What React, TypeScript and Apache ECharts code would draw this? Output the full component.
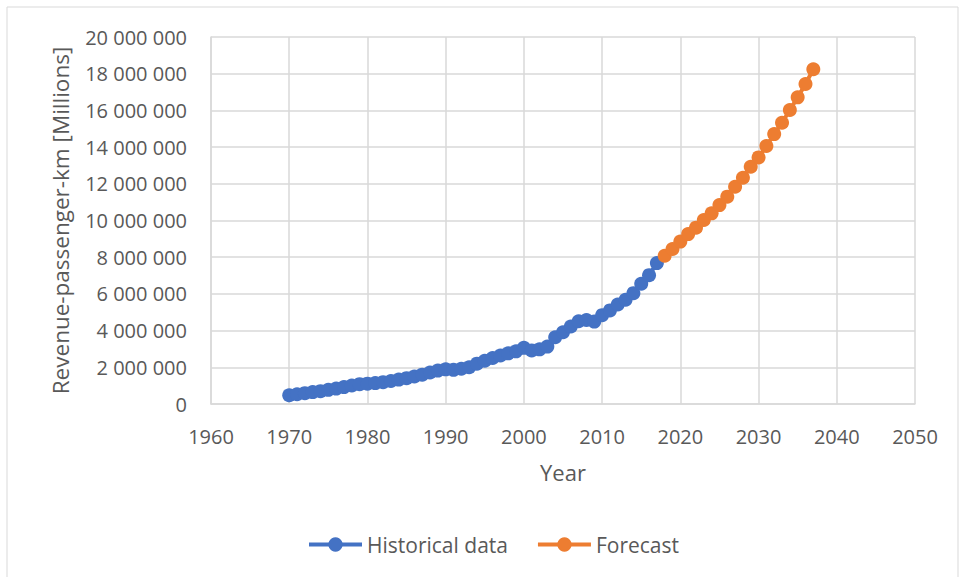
import React, { useEffect, useRef } from "react";
import * as echarts from "echarts";

const historicalYears = [
  1970, 1971, 1972, 1973, 1974, 1975, 1976, 1977, 1978, 1979,
  1980, 1981, 1982, 1983, 1984, 1985, 1986, 1987, 1988, 1989,
  1990, 1991, 1992, 1993, 1994, 1995, 1996, 1997, 1998, 1999,
  2000, 2001, 2002, 2003, 2004, 2005, 2006, 2007, 2008, 2009,
  2010, 2011, 2012, 2013, 2014, 2015, 2016, 2017,
];
const historicalValues = [
  480000, 530000, 590000, 650000, 700000, 770000, 840000, 920000, 1010000, 1080000,
  1110000, 1140000, 1190000, 1250000, 1330000, 1410000, 1500000, 1600000, 1720000, 1820000,
  1890000, 1860000, 1920000, 2000000, 2200000, 2360000, 2510000, 2640000, 2760000, 2870000,
  3060000, 2920000, 2980000, 3130000, 3640000, 3910000, 4220000, 4510000, 4580000, 4490000,
  4840000, 5100000, 5420000, 5680000, 6040000, 6550000, 7020000, 7680000,
];
const forecastYears = [
  2018, 2019, 2020, 2021, 2022, 2023, 2024, 2025, 2026, 2027,
  2028, 2029, 2030, 2031, 2032, 2033, 2034, 2035, 2036, 2037,
];
const forecastValues = [
  8080000, 8450000, 8850000, 9260000, 9610000, 10030000, 10390000, 10840000, 11300000, 11840000,
  12330000, 12930000, 13440000, 14060000, 14710000, 15330000, 16020000, 16710000, 17440000, 18240000,
];

const seriesNames = ["Historical data", "Forecast"];
const xAxisTitle = "Year";
const yAxisTitle = "Revenue-passenger-km [Millions]";

const FONT = "'Open Sans', sans-serif";
const TEXT_COLOR = "#595959";
const GRID_COLOR = "#d9d9d9";

function fmt(v: number): string {
  return String(Math.round(v)).replace(/\B(?=(\d{3})+(?!\d))/g, " ");
}

export default function App() {
  const ref = useRef<HTMLDivElement>(null);
  useEffect(() => {
    if (!ref.current) return;
    const chart = echarts.init(ref.current, null, { renderer: "svg" });
    chart.setOption({
      animation: false,
      backgroundColor: "#ffffff",
      textStyle: { fontFamily: FONT },
      graphic: [
        {
          type: "rect",
          shape: { x: 7, y: 7, width: 951, height: 600 },
          style: { fill: "none", stroke: GRID_COLOR, lineWidth: 1 },
          silent: true,
        },
      ],
      grid: { left: 211, right: 50, top: 37, bottom: 173, containLabel: false },
      xAxis: {
        type: "value",
        min: 1960,
        max: 2050,
        interval: 10,
        name: xAxisTitle,
        nameLocation: "middle",
        nameGap: 57,
        nameTextStyle: { fontSize: 22, color: TEXT_COLOR, fontFamily: FONT },
        axisLine: { show: true, lineStyle: { color: GRID_COLOR, width: 1.5 } },
        axisTick: { show: false },
        axisLabel: {
          fontSize: 20,
          color: TEXT_COLOR,
          margin: 22,
          fontFamily: FONT,
          formatter: (v: number) => String(v),
        },
        splitLine: { show: true, lineStyle: { color: GRID_COLOR, width: 1.5 } },
      },
      yAxis: {
        type: "value",
        min: 0,
        max: 20000000,
        interval: 2000000,
        name: yAxisTitle,
        nameLocation: "middle",
        nameGap: 139,
        nameTextStyle: { fontSize: 22.5, color: TEXT_COLOR, fontFamily: FONT },
        axisLine: { show: true, lineStyle: { color: GRID_COLOR, width: 1.5 } },
        axisTick: { show: false },
        axisLabel: {
          fontSize: 20,
          color: TEXT_COLOR,
          margin: 24,
          fontFamily: FONT,
          formatter: (v: number) => fmt(v),
        },
        splitLine: { show: true, lineStyle: { color: GRID_COLOR, width: 1.5 } },
      },
      legend: {
        bottom: 17,
        left: 302,
        itemWidth: 53,
        itemHeight: 18,
        itemGap: 28,
        lineStyle: { width: 4 },
        textStyle: { fontSize: 21, color: TEXT_COLOR, fontFamily: FONT },
        data: seriesNames,
      },
      series: [
        {
          name: seriesNames[0],
          type: "line",
          data: historicalYears.map((y, i) => [y, historicalValues[i]]),
          symbol: "circle",
          symbolSize: 14,
          color: "#4472C4",
          lineStyle: { width: 4, color: "#4472C4" },
          itemStyle: { color: "#4472C4" },
        },
        {
          name: seriesNames[1],
          type: "line",
          data: forecastYears.map((y, i) => [y, forecastValues[i]]),
          symbol: "circle",
          symbolSize: 14,
          color: "#ED7D31",
          lineStyle: { width: 4, color: "#ED7D31" },
          itemStyle: { color: "#ED7D31" },
        },
      ],
    });
    return () => chart.dispose();
  }, []);
  return (
    <div
      ref={ref}
      style={{ position: "fixed", left: 0, top: 0, width: 965, height: 577, background: "#fff" }}
    />
  );
}
